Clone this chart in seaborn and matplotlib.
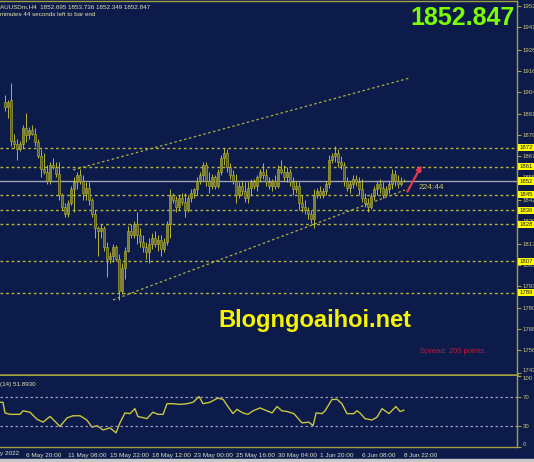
import pandas as pd
import matplotlib
matplotlib.use("Agg")
import matplotlib.pyplot as plt
import matplotlib.transforms as mtrans
from matplotlib.patches import Rectangle
import seaborn as sns

# H4 candles, XAUUSDm
opens = [1898, 1895, 1899, 1876, 1874, 1871, 1874, 1883, 1879, 1882, 1880, 1875, 1867, 1860, 1858, 1853, 1862, 1861, 1857, 1845,
         1838, 1834, 1840, 1848, 1852, 1856, 1853, 1846, 1849, 1842, 1834, 1826, 1824, 1826, 1815, 1808, 1810, 1815, 1808, 1790,
         1803, 1813, 1824, 1822, 1828, 1822, 1818, 1815, 1812, 1817, 1820, 1817, 1819, 1814, 1818, 1828, 1845, 1842, 1838, 1843,
         1841, 1836, 1843, 1846, 1848, 1853, 1856, 1862, 1853, 1850, 1855, 1850, 1858, 1866, 1869, 1861, 1856, 1853, 1845, 1850,
         1847, 1843, 1849, 1852, 1850, 1855, 1858, 1856, 1852, 1850, 1853, 1850, 1860, 1858, 1855, 1858, 1852, 1848, 1850, 1840,
         1838, 1836, 1834, 1831, 1845, 1847, 1845, 1847, 1851, 1865, 1867, 1869, 1864, 1862, 1853, 1849, 1851, 1854, 1852, 1848,
         1843, 1840, 1838, 1844, 1848, 1851, 1849, 1845, 1848, 1851, 1857, 1853, 1851, 1852.695]
highs = [1902, 1899, 1909, 1880, 1877, 1876, 1885, 1892, 1884, 1885, 1883, 1877, 1871, 1869, 1862, 1864, 1866, 1864, 1864, 1846,
         1840, 1842, 1850, 1855, 1858, 1860, 1856, 1852, 1852, 1843, 1836, 1827, 1828, 1827, 1818, 1812, 1817, 1816, 1811, 1806,
         1815, 1827, 1828, 1830, 1835, 1826, 1822, 1818, 1820, 1823, 1824, 1822, 1822, 1820, 1830, 1848, 1846, 1844, 1845, 1846,
         1846, 1845, 1848, 1849, 1855, 1858, 1864, 1864, 1858, 1857, 1856, 1860, 1868, 1872, 1871, 1863, 1859, 1857, 1852, 1853,
         1852, 1852, 1854, 1854, 1856, 1860, 1863, 1860, 1855, 1854, 1856, 1862, 1865, 1862, 1861, 1860, 1855, 1853, 1852, 1845,
         1842, 1838, 1836, 1848, 1849, 1850, 1849, 1853, 1868, 1869, 1873, 1871, 1867, 1864, 1855, 1853, 1856, 1856, 1855, 1854,
         1846, 1843, 1846, 1850, 1853, 1854, 1852, 1850, 1853, 1860, 1859, 1856, 1855, 1853.736]
lows = [1893, 1889, 1873, 1872, 1865, 1870, 1872, 1875, 1877, 1879, 1873, 1866, 1855, 1857, 1851, 1851, 1860, 1855, 1842, 1836,
        1832, 1832, 1839, 1835, 1848, 1851, 1842, 1842, 1839, 1832, 1820, 1810, 1820, 1813, 1798, 1806, 1807, 1807, 1785, 1788,
        1797, 1812, 1820, 1820, 1817, 1815, 1812, 1808, 1806, 1814, 1815, 1813, 1810, 1812, 1816, 1820, 1840, 1835, 1836, 1839,
        1832, 1835, 1841, 1843, 1845, 1851, 1853, 1850, 1846, 1848, 1848, 1849, 1856, 1862, 1858, 1854, 1851, 1840, 1843, 1845,
        1841, 1840, 1845, 1848, 1847, 1852, 1854, 1850, 1848, 1847, 1848, 1849, 1857, 1853, 1852, 1850, 1845, 1846, 1836, 1835,
        1834, 1831, 1829, 1826, 1843, 1843, 1843, 1845, 1849, 1863, 1864, 1861, 1860, 1850, 1847, 1846, 1849, 1850, 1845, 1841,
        1838, 1835, 1837, 1842, 1845, 1846, 1843, 1844, 1846, 1848, 1850, 1849, 1850, 1852.349]
closes = [1895, 1898, 1876, 1874, 1871, 1874, 1883, 1879, 1882, 1880, 1875, 1867, 1860, 1858, 1853, 1862, 1861, 1857, 1845, 1838,
          1834, 1840, 1848, 1852, 1856, 1853, 1846, 1849, 1842, 1834, 1826, 1824, 1826, 1815, 1808, 1810, 1815, 1808, 1790, 1803,
          1813, 1824, 1822, 1828, 1822, 1818, 1815, 1812, 1817, 1820, 1817, 1819, 1814, 1818, 1828, 1845, 1842, 1838, 1843, 1841,
          1836, 1843, 1846, 1848, 1853, 1856, 1862, 1853, 1850, 1855, 1850, 1858, 1866, 1869, 1861, 1856, 1853, 1845, 1850, 1847,
          1843, 1849, 1852, 1850, 1855, 1858, 1856, 1852, 1850, 1853, 1850, 1860, 1858, 1855, 1858, 1852, 1848, 1850, 1840, 1838,
          1836, 1834, 1831, 1845, 1847, 1845, 1847, 1851, 1865, 1867, 1869, 1864, 1862, 1853, 1849, 1851, 1854, 1852, 1848, 1843,
          1840, 1838, 1844, 1848, 1851, 1849, 1845, 1848, 1851, 1857, 1853, 1851, 1852.7, 1852.847]

# RSI(14) pane
rsi_bars = [-1.7, -0.7, 0, 1.7, 5, 6, 8.3, 10.7, 12.7, 15, 16.7, 18.3, 20.7, 22.7, 25, 27.3, 29, 30.7, 32.7, 35,
            37, 38.3, 40, 41.7, 43.3, 44.3, 47.3, 49.3, 51, 52.7, 54, 56, 58.3, 60.7, 62.7, 64.7, 66, 68.3, 71, 72.7,
            74.3, 76, 77.3, 79.3, 81, 82.7, 85, 87.3, 89, 90.7, 92.3, 94, 96.3, 99, 101.3, 102.7, 103.7, 105.7, 106.7, 109,
            110.7, 112.3, 114, 116.3, 117.3, 118.3, 120, 122.3, 124, 125.7, 128, 130.3, 131.7, 133]
rsi_values = [63, 63, 48, 46, 46, 51, 49, 39, 35, 43, 36, 29, 41, 44, 44, 38, 28, 30, 24, 27,
              20, 34, 48, 47, 54, 43, 40, 49, 46, 46, 61, 61, 60, 61, 63, 71, 61, 63, 69, 67,
              57, 47, 53, 48, 46, 51, 55, 51, 48, 57, 51, 50, 47, 34, 35, 30, 48, 47, 51, 67,
              67, 61, 47, 47, 51, 48, 40, 38, 42, 54, 47, 57, 50, 51.893]

levels = [1872, 1861, 1845, 1836, 1828, 1807, 1789]
level_labels = ["1872", "1861", "1845", "1836", "1828", "1807", "1789"]
price_ticks = [1953, 1941, 1928, 1916, 1904, 1891, 1879, 1867, 1855, 1842, 1830, 1817, 1805, 1793, 1780, 1768, 1756, 1743]
current_price = 1852.847

# channel anchors (bar, price)
upper_bars = [22.7, 135]
upper_prices = [1859.2, 1911.8]
lower_bars = [36, 133.3]
lower_prices = [1784.8, 1847.7]
arrow_bars = [133.7, 139.3]
arrow_prices = [1845.4, 1863.2]

date_bars = [7, 21, 35, 49, 63, 77, 91, 105, 119, 133]
date_labels = ["6 May 20:00", "11 May 08:00", "15 May 22:00", "18 May 12:00", "23 May 00:00",
               "25 May 16:00", "30 May 04:00", "1 Jun 20:00", "6 Jun 08:00", "8 Jun 22:00"]

BG = "#0d1b4b"
OLIVE = "#a0a040"
AXTXT = "#c8c878"

sns.set_style("dark", rc={"axes.facecolor": BG, "figure.facecolor": BG})
plt.rcParams["font.family"] = ["Liberation Sans", "DejaVu Sans"]

W, H = 534, 462
fig = plt.figure(figsize=(W / 100, H / 100), dpi=100)
ax = fig.add_axes([0, 1 - 375 / H, 517 / W, 374 / H])
ax2 = fig.add_axes([0, 1 - 447 / H, 517 / W, 71 / H])

for a in (ax, ax2):
    a.set_facecolor(BG)
    a.grid(False)
    a.spines["left"].set_visible(False)
    for s in ("top", "right", "bottom"):
        a.spines[s].set_color(OLIVE)
        a.spines[s].set_linewidth(1)
ax.spines["bottom"].set_linewidth(1.8)
ax2.spines["top"].set_visible(False)

# candles
bars = list(range(len(closes)))
ax.vlines(bars, lows, highs, color="#d0d028", lw=0.6, zorder=3)
bottoms = [min(o, c) for o, c in zip(opens, closes)]
heights = [max(abs(c - o), 0.4) for o, c in zip(opens, closes)]
fills = ["#7c7c34" if c >= o else "#5e5e2a" for o, c in zip(opens, closes)]
ax.bar(bars, heights, bottom=bottoms, width=0.55, color=fills, edgecolor="#b8b82c", lw=0.4, zorder=4)

# levels and channel
for lv in levels:
    ax.axhline(lv, color="#b4b43a", lw=1, ls=(0, (2, 2)), zorder=2)
ax.axhline(current_price, color="#a4a4b4", lw=1, zorder=2)
ax.plot(upper_bars, upper_prices, color="#b0b03a", lw=0.9, ls=(0, (2, 2)), zorder=2)
ax.plot(lower_bars, lower_prices, color="#b0b03a", lw=0.9, ls=(0, (2, 2)), zorder=2)
ax.annotate("", xy=(arrow_bars[1], arrow_prices[1]), xytext=(arrow_bars[0], arrow_prices[0]),
            arrowprops=dict(arrowstyle="-|>", color="#e8384a", lw=1.6, mutation_scale=7), zorder=6)
ax.text(137.8, 1849.4, "224:44", color="#c8c860", fontsize=6, va="center", ha="left", zorder=6)

ax.set_xlim(-5 / 3, 512 / 3)
ax.set_ylim(1741.9, 1955.8)
ax.set_xticks([])
ax.yaxis.tick_right()
ax.set_yticks(price_ticks)
ax.set_yticklabels([str(t) for t in price_ticks])
ax.tick_params(axis="y", colors=OLIVE, labelcolor=AXTXT, labelsize=4.3, length=3, width=0.8, pad=1)
ax.get_yticklabels()[-1].set_va("bottom")

trans = mtrans.blended_transform_factory(ax.transAxes, ax.transData)
for lv, lab in zip(levels + [current_price], level_labels + ["1852"]):
    ax.text(1.004, lv, lab, transform=trans, ha="left", va="center", fontsize=4.3, color="#1a1a1a",
            bbox=dict(boxstyle="square,pad=0.18", fc="#ffff00", ec="none"), clip_on=False, zorder=7)

# RSI pane
rsi_df = pd.DataFrame({"bar": rsi_bars, "rsi": rsi_values})
sns.lineplot(data=rsi_df, x="bar", y="rsi", ax=ax2, color="#c8c83c", lw=1, sort=False)
for lv in (70, 30):
    ax2.axhline(lv, color="#9a9ab4", lw=0.9, ls=(0, (2, 2)))
ax2.set_xlim(-5 / 3, 512 / 3)
ax2.set_ylim(0, 100)
ax2.yaxis.tick_right()
ax2.set_yticks([0, 30, 70, 100])
ax2.set_yticklabels(["0", "30", "70", "100"])
ax2.set_xlabel("")
ax2.set_ylabel("")
ax2.tick_params(axis="y", colors=OLIVE, labelcolor=AXTXT, labelsize=4.3, length=3, width=0.8, pad=1)
ylabs = ax2.get_yticklabels()
ylabs[0].set_va("bottom")
ylabs[-1].set_va("top")
ax2.set_xticks(date_bars)
ax2.set_xticklabels(date_labels)
ax2.tick_params(axis="x", colors=OLIVE, labelcolor="#e0e0c4", labelsize=4.6, length=3, width=0.8, pad=1)
for lab in ax2.get_xticklabels():
    lab.set_ha("left")

# header texts
fig.text(0.0, 1 - 8.3 / H, "AUUSDm,H4  1852.695 1853.736 1852.349 1852.847", color="#e4e4b0",
         fontsize=4.5, va="baseline", ha="left")
fig.text(0.0, 1 - 16.5 / H, "minutes 44 seconds left to bar end", color="#e4e4b0",
         fontsize=4.5, va="baseline", ha="left")
fig.text(515 / W, 1 - 25 / H, "1852.847", color="#7cfc00", fontsize=18, fontweight="bold",
         va="baseline", ha="right")
fig.text(218 / W, 1 - 327 / H, "Blogngoaihoi.net", color="#f5f500", fontsize=17, fontweight="bold",
         va="baseline", ha="left")
fig.text(420 / W, 1 - 353 / H, "Spread: 200 points.", color="#b81c3c", fontsize=5.5,
         va="baseline", ha="left")
fig.text(0.0, 1 - 386 / H, "(14) 51.8930", color="#e4e4b0", fontsize=4.5, va="baseline", ha="left")
fig.text(0.0, 1 - 455 / H, "y 2022", color="#e0e0c4", fontsize=4.6, va="baseline", ha="left")
fig.add_artist(Rectangle((0, 0), 1, 3 / H, transform=fig.transFigure, color="#c8c8cc"))

fig.savefig("out.png", dpi=100, facecolor=BG)
